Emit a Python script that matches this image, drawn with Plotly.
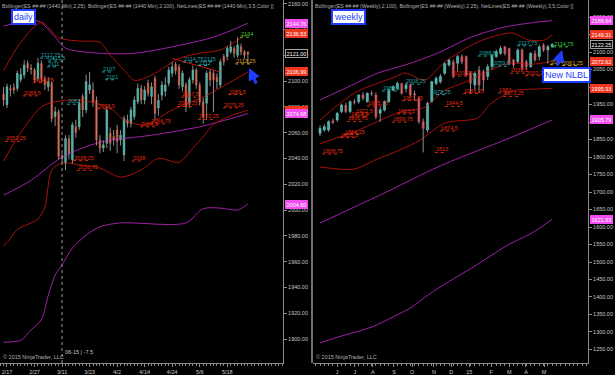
import plotly.graph_objects as go

# ================= DAILY  (ES 06-15, 1440 Min) =================
d_open = [2090, 2081.5, 2094, 2095, 2094.25, 2101, 2104.75, 2113.75, 2110, 2108.5,
          2102, 2113.5, 2102, 2095.5, 2098.25, 2072.5, 2076.25, 2042, 2036.25, 2055,
          2039, 2064.5, 2064.5, 2088, 2077.5, 2093, 2093, 2085, 2054.25, 2048,
          2051.75, 2059.5, 2057, 2062, 2054.25, 2042.75, 2070, 2067, 2072.5, 2084,
          2094.25, 2085.25, 2098.25, 2088, 2102, 2079, 2089, 2092, 2098.25, 2106,
          2113, 2111, 2095.5, 2097, 2082.75, 2100.75, 2108.5, 2097, 2084, 2082.75,
          2107, 2106, 2103, 2097, 2119, 2119, 2122.75, 2125.25, 2120, 2126.5,
          2122.75, 2122.5]
d_high = [2095.5, 2098, 2097, 2098, 2108, 2110, 2116, 2116, 2113, 2110,
          2117.75, 2116, 2104, 2103, 2100, 2080, 2078, 2044, 2058, 2058,
          2068, 2070, 2086, 2090, 2105, 2107, 2099, 2088, 2058, 2054,
          2080, 2064, 2062, 2066, 2062, 2073, 2074, 2080, 2088, 2098,
          2097, 2096, 2101, 2099, 2104, 2090, 2100, 2103, 2111, 2114.75,
          2114.75, 2113, 2108, 2099, 2103, 2112, 2110, 2099, 2087, 2108,
          2109, 2108, 2106, 2117, 2121, 2127, 2131, 2127, 2134, 2129,
          2124, 2123]
d_low = [2080.5, 2079, 2088, 2090, 2092, 2099, 2102, 2107, 2105, 2099,
         2100, 2099, 2093, 2092, 2068, 2065, 2039, 2037, 2030.75, 2039.25,
         2036, 2056, 2062, 2072, 2075, 2090, 2080, 2050, 2044, 2045,
         2048, 2046, 2050, 2044, 2050, 2038, 2064, 2064, 2070, 2082,
         2082, 2082, 2088, 2082, 2070, 2073, 2085, 2088, 2096, 2103,
         2105, 2094, 2092, 2076, 2079, 2098, 2094, 2081, 2067, 2070.25,
         2096, 2076, 2094, 2095, 2112, 2116, 2121, 2118, 2118, 2120,
         2117, 2113.25]
d_close = [2085.25, 2095.5, 2093, 2093, 2106, 2105, 2112.5, 2110, 2109, 2100.75,
           2113.75, 2102, 2097, 2099.5, 2071, 2076.25, 2041.5, 2040, 2055.5, 2044,
           2066, 2060, 2082.75, 2077.5, 2099.5, 2097, 2084, 2054.25, 2048, 2050.5,
           2077.5, 2051.75, 2054.25, 2053, 2058, 2071, 2067.25, 2077.5, 2085.25, 2094.25,
           2085.25, 2093, 2090.5, 2095.5, 2075, 2085, 2097, 2097, 2108.5, 2111,
           2108, 2097, 2106, 2080, 2101, 2108.5, 2097, 2084, 2072.5, 2106,
           2100.75, 2100.75, 2099.5, 2115, 2115, 2125.25, 2126.5, 2121.5, 2128, 2122.75,
           2120, 2121]

d_tick_pos = [1, 9, 17, 25, 33, 41, 49, 57, 65]
d_tick_text = ['2/17', '2/27', '3/11', '3/23', '4/2', '4/14', '4/24', '5/6', '5/18']

# Bollinger(2,25) - dark red
d_bb25_up_x = [0, 5, 11, 16, 22, 28, 31, 35, 38, 43, 51, 57, 63, 67, 71]
d_bb25_up = [2108, 2130, 2145.5, 2133.5, 2131, 2130, 2120, 2108.5, 2100.5, 2104.5,
             2117.5, 2121.5, 2124, 2130, 2136.53]
d_bb25_mid_x = [0, 5, 11, 15, 23, 31, 35, 41, 49, 59, 71]
d_bb25_mid = [2038, 2060, 2080, 2084, 2085, 2079, 2070, 2066, 2077.5, 2089, 2106.99]
d_bb25_lo_x = [0, 2, 4, 8, 10, 12, 14, 17, 22, 28, 34, 40, 45, 51, 55, 58, 61, 66, 71]
d_bb25_lo = [1972, 1978, 1985, 1990, 1993, 2002, 2031, 2036.5, 2035, 2032.5, 2025.5,
             2031, 2040, 2037, 2048, 2056.5, 2066.5, 2073, 2077.48]
# Bollinger(2,100) - purple
d_bb100_up_x = [0, 10, 15, 18, 28, 38, 49, 61, 71]
d_bb100_up = [2142.5, 2146.5, 2134, 2125.5, 2121.5, 2121.5, 2126.5, 2134, 2144.76]
d_bb100_mid_x = [0, 8, 17, 28, 43, 57, 71]
d_bb100_mid = [2011.5, 2023, 2041, 2052.5, 2058, 2064.5, 2074.68]
d_bb100_lo_x = [0, 5, 8, 11, 13, 15, 17, 20, 24, 28, 34, 53, 58, 63, 68, 71]
d_bb100_lo = [1897.5, 1899, 1907, 1915, 1934, 1949.5, 1957.5, 1970.5, 1980.5, 1987,
              1990, 1990, 2001, 2001.5, 2000, 2004.60]
# trend line (NetLines)
d_tl_x = [49, 63]
d_tl_y = [2117.5, 2107]

# NetLines price labels: text, bar index, colour key
d_lbl_text = ['2117.75', '2115.5', '2111', '2098.75', '2088.5', '2107', '2101', '2082',
              '2078.5', '2053.25', '2038.25', '2030.75', '2038', '2066.75', '2064.5',
              '2087.5', '2080.25', '2070.25', '2079.25', '2089.5', '2114.75', '2115',
              '2112', '2134', '2113.25']
d_lbl_idx = [10.6, 12.9, 12.6, 8.5, 5.6, 28.6, 29.5, 18.4, 27.2, 0.4, 20.2, 21.3, 37.3,
             42.6, 39.7, 51.6, 50.4, 56.5, 63.8, 65.2, 52.2, 58, 56.5, 68.7, 67.3]
d_lbl_col = ['t', 't', 't', 'r', 'r', 't', 't', 't', 'r', 'r', 'r', 'r', 'r', 'r', 'r',
             'r', 'r', 'r', 'r', 'r', 't', 't', 't', 'g', 'o']

d_tag_vals = ['2144.76', '2136.53', '2121.00', '2106.99', '2077.48', '2074.68', '2004.60']
d_tag_kind = ['m', 'r', 'k', 'r', 'r', 'm', 'm']

# ================= WEEKLY =================
w_open = [1867.5, 1877, 1877, 1903, 1906, 1929.5, 1948, 1930, 1958, 1958,
          1977, 1958, 1982, 1977, 1925, 1934, 1958, 1991, 1996, 2010,
          1995, 2006, 1981, 1968, 1901, 1877, 1958, 2010, 2015, 2039,
          2063, 2072, 2068, 2087, 2087, 2039, 2006, 2049, 2044, 2030,
          2058, 2087, 2096, 2115, 2110, 2077, 2072, 2106, 2072, 2058,
          2096, 2087, 2120, 2106, 2115]
w_high = [1890, 1893, 1905, 1910, 1928, 1952, 1955, 1962, 1965, 1980,
          1985, 1985, 1990, 1985, 1942, 1962, 1994, 2005, 2015, 2012,
          2012, 2010, 1990, 1972, 1910, 1958, 2018, 2030, 2037, 2070,
          2080, 2078, 2092, 2093, 2090, 2045, 2045, 2060, 2050, 2065,
          2095, 2107, 2117.75, 2117, 2112, 2080, 2110, 2110, 2078, 2100,
          2105, 2120, 2125, 2120, 2124.75]
w_low = [1860, 1872, 1872, 1895, 1900, 1925, 1925, 1925, 1950, 1952,
         1962, 1955, 1975, 1908, 1899.75, 1930, 1955, 1988, 1992, 1978,
         1985, 1972, 1961.25, 1895, 1813, 1870, 1955, 2005, 2010, 2035,
         2058, 2025, 2045, 2065, 2030, 1981.25, 1990, 1985, 1990, 2020,
         2050, 2083, 2092, 2090, 2062, 2055, 2068, 2048, 2050, 2055,
         2072, 2076, 2100, 2067, 2112]
w_close = [1882, 1886.75, 1901, 1898, 1925, 1948.5, 1930, 1958, 1956, 1977,
           1968, 1982, 1980, 1915, 1935, 1958, 1991, 2001, 2010.5, 1982,
           2005, 1977, 1977, 1901, 1882, 1953, 2015, 2025, 2030, 2067,
           2077, 2030, 2087, 2072.5, 2034, 2011, 2039, 2006, 2020, 2058,
           2091.5, 2101, 2110, 2096, 2068, 2063, 2106, 2053, 2058, 2096,
           2077, 2115, 2106, 2115, 2122.25]

w_tick_pos = [4, 8.1, 12.3, 17.2, 21.4, 26.5, 30.5, 34.7, 39.8, 44, 47.9, 52.1]
w_tick_text = ['J', 'J', 'A', 'S', 'O', 'N', 'D', '15', 'F', 'M', 'A', 'M']

w_bb100_up_x = [0, 6.5, 13.5, 19.8, 27.4, 35.3, 43, 50.7, 54]
w_bb100_up = [1963, 2000, 2040, 2063, 2097, 2143, 2171.5, 2185.7, 2189.64]
w_bb100_mid_x = [0, 14, 27.4, 35.3, 43, 54]
w_bb100_mid = [1611.5, 1691.5, 1771.5, 1811.5, 1848.6, 1905.79]
w_bb100_lo_x = [0, 4.2, 12.1, 17.4, 21.4, 25.1, 29.8, 35.3, 40, 43.7, 49.3, 54]
w_bb100_lo = [1268.5, 1285.5, 1314.5, 1345.5, 1371.5, 1405.5, 1443, 1483, 1520,
              1548.5, 1583, 1621.93]
w_bb25_up_x = [0, 8, 17.4, 19.8, 24.4, 29, 36.7, 44.7, 48.4, 52.3, 54]
w_bb25_up = [1905.5, 1983, 2028.5, 2040, 2020, 2071.5, 2128.5, 2154.5, 2134.5, 2134.5, 2149.31]
w_bb25_mid_x = [0, 8, 14, 19, 24, 29, 34, 39, 44, 49, 54]
w_bb25_mid = [1838.5, 1872, 1905, 1930, 1940, 1990, 2015, 2045, 2068, 2065, 2072.62]
w_bb25_lo_x = [0, 8, 12.8, 18.6, 23.3, 29, 36.7, 39.5, 44.7, 50, 54]
w_bb25_lo = [1771.5, 1765.5, 1791.5, 1820, 1848.5, 1897, 1911.5, 1950, 1988.5, 1994, 1995.93]

w_lbl_text = ['2117.75', '2114.75', '2088.5', '2059.5', '2064', '2061.25', '2031.25',
              '2039.5', '2032.25', '2008.25', '1978.25', '1988.5', '1945.75', '1961.25',
              '1923.5', '1899.75', '1922.5', '1913.5', '1901.75', '1944.5', '1983',
              '1973.25', '1874.5', '1864.25', '1855.5', '1808.75', '1813', '1981.25']
w_lbl_idx = [45.8, 54.2, 36.7, 40, 53.5, 56.3, 30.7, 44.2, 47.7, 19.8, 25.6, 14.4, 10.9,
             19.1, 17.9, 16.7, 8.1, 7, 6.3, 29.1, 41.4, 42.6, 27.9, 5.6, 4.7, 0.5, 26.7, 33.3]
w_lbl_col = ['t', 'g', 't', 't', 'o', 'o', 'r', 'r', 'r', 't', 't', 't', 'r', 'r', 'r',
             'r', 'r', 'r', 'r', 'r', 'r', 'r', 'r', 'r', 'r', 'r', 'r', 'r']

w_tag_vals = ['2189.64', '2149.31', '2122.25', '2072.62', '1995.93', '1905.79', '1621.93']
w_tag_kind = ['m', 'r', 'k', 'r', 'r', 'm', 'm']

# ================= STYLE =================
W, H = 615, 375
BG = '#000000'
UP = '#3ee0cf'
DN_D = '#f2401c'
DN_W = '#e0303f'
WICK = '#8c8c8c'
PURPLE = '#a020a8'
DKRED = '#a8100c'
LBL = {'t': '#1fa3a0', 'r': '#e02a10', 'g': '#30d030', 'o': '#d9a020'}
TAG = {'m': '#f04ef0', 'r': '#f0341e', 'k': '#000000'}
AX = '#8a8a8a'
TXT = '#c8c8c8'
FONT = 'Liberation Sans, Arial, sans-serif'
BLUE = '#1f3cff'
FS = 5.5

fig = go.Figure()


def add_panel(xa, ya, o, h, l, c, dn, bands, lbl_text, lbl_idx, lbl_col, px_per_bar):
    for bx, by, col in bands:
        fig.add_trace(go.Scatter(x=bx, y=by, mode='lines', xaxis=xa, yaxis=ya,
                                 line=dict(color=col, width=1, shape='spline', smoothing=0.8),
                                 hoverinfo='skip', showlegend=False))
    n = len(o)
    wx, wy = [], []
    for i in range(n):
        wx += [i, i, None]
        wy += [l[i], h[i], None]
    fig.add_trace(go.Scatter(x=wx, y=wy, mode='lines', xaxis=xa, yaxis=ya,
                             line=dict(color=WICK, width=1), hoverinfo='skip', showlegend=False))
    fig.add_trace(go.Candlestick(
        x=list(range(n)), open=o, close=c,
        high=[max(a, b) for a, b in zip(o, c)], low=[min(a, b) for a, b in zip(o, c)],
        increasing=dict(line=dict(color=UP, width=0.5), fillcolor=UP),
        decreasing=dict(line=dict(color=dn, width=0.5), fillcolor=dn),
        whiskerwidth=0, xaxis=xa, yaxis=ya, hoverinfo='skip', showlegend=False))
    # NetLines labels with dotted level lines
    for key in LBL:
        lx, ly = [], []
        for t, ix, ck in zip(lbl_text, lbl_idx, lbl_col):
            if ck != key:
                continue
            w = len(t) * 2.6 / px_per_bar
            lx += [ix, ix + w, None]
            ly += [float(t), float(t), None]
        if lx:
            fig.add_trace(go.Scatter(x=lx, y=ly, mode='lines', xaxis=xa, yaxis=ya,
                                     line=dict(color=LBL[key], width=1, dash='dot'),
                                     hoverinfo='skip', showlegend=False))
    for t, ix, ck in zip(lbl_text, lbl_idx, lbl_col):
        fig.add_annotation(x=ix, y=float(t), xref=xa, yref=ya, text=t, showarrow=False,
                           xanchor='left', yanchor='bottom', yshift=-1, borderpad=0,
                           font=dict(family=FONT, size=FS, color=LBL[ck]))


add_panel('x', 'y', d_open, d_high, d_low, d_close, DN_D,
          [(d_bb100_up_x, d_bb100_up, PURPLE), (d_bb100_mid_x, d_bb100_mid, PURPLE),
           (d_bb100_lo_x, d_bb100_lo, PURPLE), (d_bb25_up_x, d_bb25_up, DKRED),
           (d_bb25_mid_x, d_bb25_mid, DKRED), (d_bb25_lo_x, d_bb25_lo, DKRED),
           (d_tl_x, d_tl_y, '#c01810')],
          d_lbl_text, d_lbl_idx, d_lbl_col, 3.44)
add_panel('x2', 'y2', w_open, w_high, w_low, w_close, DN_W,
          [(w_bb100_up_x, w_bb100_up, PURPLE), (w_bb100_mid_x, w_bb100_mid, PURPLE),
           (w_bb100_lo_x, w_bb100_lo, PURPLE), (w_bb25_up_x, w_bb25_up, DKRED),
           (w_bb25_mid_x, w_bb25_mid, DKRED), (w_bb25_lo_x, w_bb25_lo, DKRED)],
          w_lbl_text, w_lbl_idx, w_lbl_col, 4.3)

# price tags on the right axes
for vals, kinds, ya, xpx in [(d_tag_vals, d_tag_kind, 'y', 285), (w_tag_vals, w_tag_kind, 'y2', 590)]:
    for v, k in zip(vals, kinds):
        fig.add_annotation(x=xpx / W, xref='paper', y=float(v), yref=ya, text=v,
                           showarrow=False, xanchor='left', yanchor='middle',
                           bgcolor=TAG[k], bordercolor=('#a0a0a0' if k == 'k' else TAG[k]),
                           borderwidth=1, borderpad=0, width=21, height=7,
                           font=dict(family=FONT, size=FS, color='#ffffff'))

bottom = 12 / H
common_x = dict(showgrid=False, zeroline=False, showline=True, linecolor=AX, linewidth=1,
                ticks='outside', ticklen=3, tickcolor=AX, tickmode='array',
                tickfont=dict(family=FONT, size=FS, color=TXT), rangeslider=dict(visible=False),
                minor=dict(ticks='outside', ticklen=2, tickcolor=AX, tickmode='linear', tick0=0, dtick=1))
common_y = dict(showgrid=False, zeroline=False, showline=True, linecolor=AX, linewidth=1,
                side='right', ticks='outside', ticklen=3, tickcolor=AX, tickformat='.2f',
                tickfont=dict(family=FONT, size=FS, color=TXT), domain=[bottom, 1])

fig.update_layout(
    width=W, height=H, margin=dict(l=0, r=0, t=0, b=0),
    paper_bgcolor=BG, plot_bgcolor=BG, showlegend=False, hovermode=False,
    xaxis=dict(domain=[0, 283 / W], range=[-1.03, 81.2], anchor='y',
               tickvals=d_tick_pos, ticktext=d_tick_text, **common_x),
    yaxis=dict(anchor='x', range=[1881.4, 2162.8], tick0=0, dtick=20, **common_y),
    xaxis2=dict(domain=[313 / W, 588 / W], range=[-1.63, 62.33], anchor='y2',
                tickvals=w_tick_pos, ticktext=w_tick_text, **common_x),
    yaxis2=dict(anchor='x2', range=[1211.4, 2248.6], tick0=0, dtick=50, **common_y),
)

# panel separator (weekly panel left border)
fig.add_shape(type='line', xref='paper', yref='paper', x0=312 / W, x1=312 / W, y0=bottom, y1=1,
              line=dict(color='#e0e0e0', width=1))
# crosshair on daily
fig.add_shape(type='line', xref='x', yref='paper', x0=17, x1=17, y0=bottom, y1=1,
              line=dict(color='#9a9a9a', width=1, dash='dot'))
fig.add_annotation(x=17.2, xref='x', y=1 - 352 / H, yref='paper', text='06-15 | -7.5',
                   showarrow=False, xanchor='left', yanchor='middle',
                   font=dict(family=FONT, size=FS, color=TXT))

# indicator headers
fig.add_annotation(x=0, xref='paper', y=1 - 1 / H, yref='paper', showarrow=False,
                   xanchor='left', yanchor='top',
                   text='Bollinger(ES ##-## (1440 Min),2,25), Bollinger(ES ##-## (1440 Min),2,100), NetLines(ES ##-## (1440 Min),3,5,Color [[',
                   font=dict(family=FONT, size=5.2, color='#b0b0b0'))
fig.add_annotation(x=313 / W, xref='paper', y=1 - 1 / H, yref='paper', showarrow=False,
                   xanchor='left', yanchor='top',
                   text='Bollinger(ES ##-## (Weekly),2,100), Bollinger(ES ##-## (Weekly),2,25), NetLines(ES ##-## (Weekly),3,5,Color [[',
                   font=dict(family=FONT, size=5.2, color='#b0b0b0'))
# copyright
for xp in (1, 314):
    fig.add_annotation(x=xp / W, xref='paper', y=1 - 357 / H, yref='paper', showarrow=False,
                       xanchor='left', yanchor='middle', text='© 2015 NinjaTrader, LLC',
                       font=dict(family=FONT, size=FS, color='#b0b0b0'))

# callout boxes
for txt, cx, cy in [('daily', 23.5, 17), ('weekly', 348.5, 17), ('New NLBL', 566.5, 74.5)]:
    fig.add_annotation(x=cx / W, xref='paper', y=1 - cy / H, yref='paper', text=txt,
                       showarrow=False, xanchor='center', yanchor='middle',
                       bgcolor='#ffffff', bordercolor=BLUE, borderwidth=2, borderpad=1,
                       font=dict(family=FONT, size=9, color=BLUE))
# arrows
for tx, ty, ax, ay in [(249, 68, 8, 17), (562, 50, -5, 17)]:
    fig.add_annotation(x=tx / W, xref='paper', y=1 - ty / H, yref='paper', text='',
                       showarrow=True, ax=ax, ay=ay, arrowhead=2, arrowsize=0.8,
                       arrowwidth=3, arrowcolor=BLUE)

fig.write_html('out.html', config={'displayModeBar': False, 'staticPlot': True},
               post_script="document.body.style.margin='0';document.body.style.background='#000';")
